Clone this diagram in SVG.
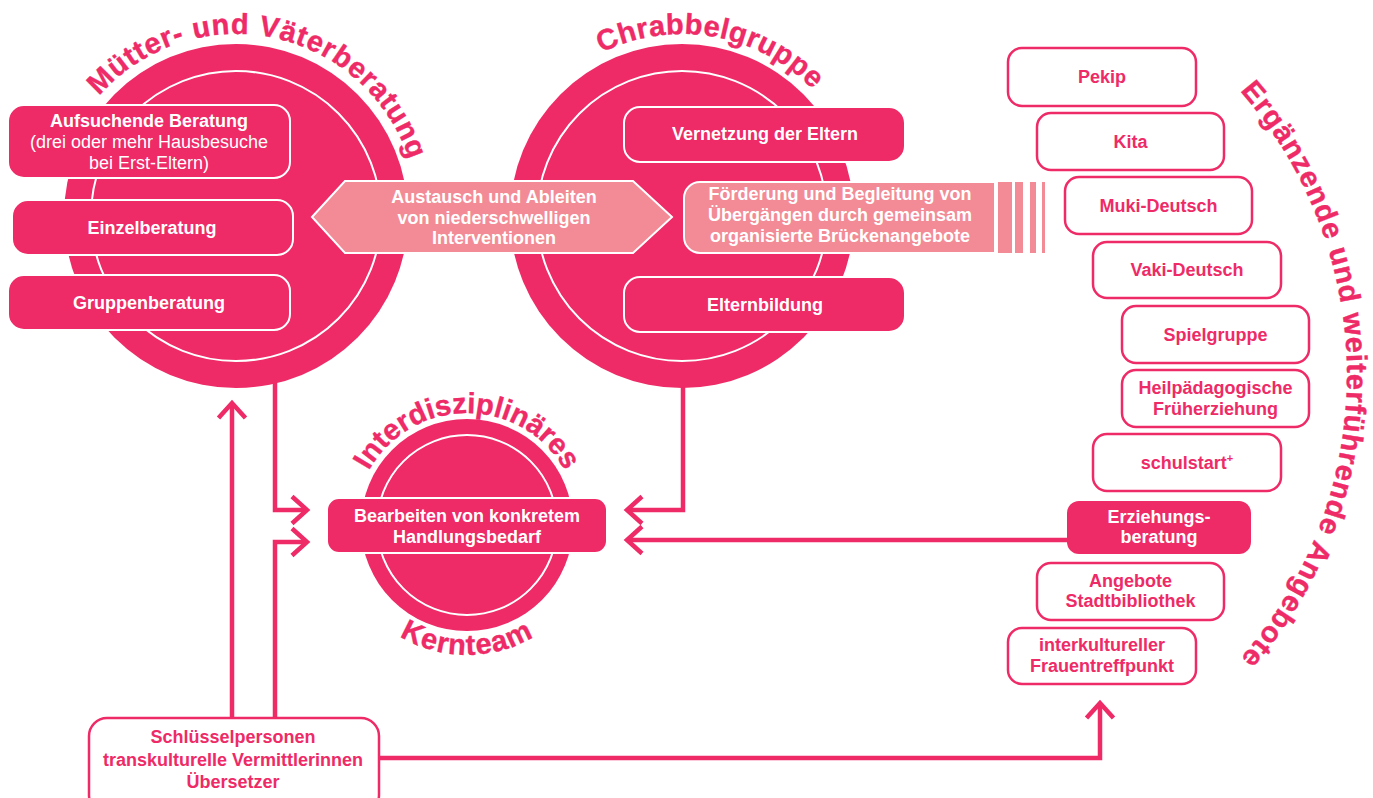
<svg xmlns="http://www.w3.org/2000/svg" xmlns:xlink="http://www.w3.org/1999/xlink" width="1373" height="798" viewBox="0 0 1373 798">
<style>
text{font-family:"Liberation Sans",Arial,Helvetica,sans-serif;font-weight:bold;font-size:18px;text-anchor:middle}
.w{fill:#fff}
.p{fill:#EE2A67}
.reg{font-weight:normal}
.arc{fill:#EE2A67;font-size:29px;stroke:#EE2A67;stroke-width:0.4}
.disc{fill:#EE2A67}
.ring{fill:none;stroke:#fff;stroke-width:2}
.ibox{fill:#EE2A67;stroke:#fff;stroke-width:2}
.lbox{fill:#F38B96;stroke:#fff;stroke-width:2}
.obox{fill:#fff;stroke:#EE2A67;stroke-width:2.5}
.con{fill:none;stroke:#EE2A67;stroke-width:4.5}
</style>
<defs>
<marker id="chev" viewBox="-22 -20 26 40" markerWidth="26" markerHeight="40" refX="0" refY="0" orient="auto" markerUnits="userSpaceOnUse">
<path d="M -15,-13.5 L 0,0 L -15,13.5" fill="none" stroke="#EE2A67" stroke-width="4.5"/>
</marker>
<path id="arcMV" d="M 54,216 A 182 182 0 0 1 418,216"/>
<path id="arcCG" d="M 500,216 A 182 182 0 0 1 864,216"/>
<path id="arcIT" d="M 355,525 A 112 112 0 0 1 579,525"/>
<path id="arcKT" d="M 337,525 A 130 130 0 0 0 597,525"/>
<path id="arcEA" d="M 917,-55 A 430 430 0 0 1 917,805"/>
</defs>
<rect width="1373" height="798" fill="#fff"/>

<g id="connectors">
<path class="con" d="M 275,380 V 510 H 307" marker-end="url(#chev)"/>
<path class="con" d="M 275,718 V 542 H 307" marker-end="url(#chev)"/>
<path class="con" d="M 232,718 V 403" marker-end="url(#chev)"/>
<path class="con" d="M 683,380 V 510 H 627" marker-end="url(#chev)"/>
<path class="con" d="M 1067,540 H 627" marker-end="url(#chev)"/>
<path class="con" d="M 379,758 H 1100 V 703" marker-end="url(#chev)"/>
</g>

<g id="muetter-vaeterberatung">
<circle class="disc" cx="236" cy="216" r="172"/>
<circle class="ring" cx="236" cy="216" r="145"/>
<text class="arc" letter-spacing="0.8"><textPath href="#arcMV" xlink:href="#arcMV" startOffset="56.5%">Mütter- und Väterberatung</textPath></text>
<g id="aufsuchende-beratung">
<rect class="ibox" x="8" y="105" width="282" height="73" rx="16"/>
<text class="w" x="149" y="127">Aufsuchende Beratung</text>
<text class="w reg" x="149" y="148">(drei oder mehr Hausbesuche</text>
<text class="w reg" x="149" y="169">bei Erst-Eltern)</text>
</g>
<g id="einzelberatung">
<rect class="ibox" x="12" y="200" width="281" height="55" rx="16"/>
<text class="w" x="152" y="234">Einzelberatung</text>
</g>
<g id="gruppenberatung">
<rect class="ibox" x="8" y="275" width="282" height="55" rx="16"/>
<text class="w" x="149" y="309">Gruppenberatung</text>
</g>
</g>

<g id="chrabbelgruppe">
<circle class="disc" cx="682" cy="216" r="172"/>
<circle class="ring" cx="682" cy="216" r="145"/>
<text class="arc" letter-spacing="0.4"><textPath href="#arcCG" xlink:href="#arcCG" startOffset="55.5%">Chrabbelgruppe</textPath></text>
<g id="vernetzung">
<rect class="ibox" x="624" y="107" width="281" height="55" rx="16"/>
<text class="w" x="765" y="140">Vernetzung der Eltern</text>
</g>
<g id="elternbildung">
<rect class="ibox" x="624" y="277" width="281" height="55" rx="16"/>
<text class="w" x="765" y="311">Elternbildung</text>
</g>
<g id="foerderung">
<path class="lbox" d="M 700,182 H 995 V 253 H 700 A 16 16 0 0 1 684,237 V 198 A 16 16 0 0 1 700,182 Z"/>
<rect x="998" y="182" width="14" height="71" fill="#F38B96"/>
<rect x="1015" y="182" width="8" height="71" fill="#F38B96"/>
<rect x="1030" y="182" width="6" height="71" fill="#F38B96"/>
<rect x="1042" y="182" width="3" height="71" fill="#F38B96"/>
<text class="w" x="840" y="200">Förderung und Begleitung von</text>
<text class="w" x="840" y="221">Übergängen durch gemeinsam</text>
<text class="w" x="840" y="242">organisierte Brückenangebote</text>
</g>
</g>

<g id="austausch">
<polygon class="lbox" points="312,217 345,181 633,181 672,217 633,253 345,253"/>
<text class="w" x="494" y="203">Austausch und Ableiten</text>
<text class="w" x="494" y="224">von niederschwelligen</text>
<text class="w" x="494" y="244">Interventionen</text>
</g>

<g id="kernteam">
<circle class="disc" cx="467" cy="525" r="106"/>
<circle class="ring" cx="467" cy="525" r="90" stroke-width="1.5"/>
<text class="arc" letter-spacing="0"><textPath href="#arcIT" xlink:href="#arcIT" startOffset="50%">Interdisziplinäres</textPath></text>
<text class="arc" letter-spacing="1"><textPath href="#arcKT" xlink:href="#arcKT" startOffset="50%">Kernteam</textPath></text>
<rect class="ibox" x="327" y="498" width="280" height="55" rx="12"/>
<text class="w" x="467" y="522">Bearbeiten von konkretem</text>
<text class="w" x="467" y="543">Handlungsbedarf</text>
</g>

<g id="ergaenzende-angebote">
<text class="arc" letter-spacing="1"><textPath href="#arcEA" xlink:href="#arcEA" startOffset="50%">Ergänzende und weiterführende Angebote</textPath></text>
</g>
<g id="pekip"><rect class="obox" x="1008" y="48" width="188" height="58" rx="14"/><text class="p" x="1102" y="83">Pekip</text></g>
<g id="kita"><rect class="obox" x="1037" y="113" width="187" height="57" rx="14"/><text class="p" x="1130.5" y="148">Kita</text></g>
<g id="muki"><rect class="obox" x="1065" y="177" width="187" height="57" rx="14"/><text class="p" x="1158.5" y="212">Muki-Deutsch</text></g>
<g id="vaki"><rect class="obox" x="1093" y="242" width="188" height="56" rx="14"/><text class="p" x="1187" y="276">Vaki-Deutsch</text></g>
<g id="spielgruppe"><rect class="obox" x="1122" y="306" width="187" height="57" rx="14"/><text class="p" x="1215.5" y="341">Spielgruppe</text></g>
<g id="heilpaedagogik"><rect class="obox" x="1122" y="370" width="187" height="57" rx="14"/><text class="p" x="1215.5" y="394">Heilpädagogische</text><text class="p" x="1215.5" y="415">Früherziehung</text></g>
<g id="schulstart"><rect class="obox" x="1093" y="434" width="188" height="57" rx="14"/><text class="p" x="1187" y="469">schulstart<tspan font-size="11" dy="-7">+</tspan></text></g>
<g id="erziehungsberatung"><rect x="1067" y="501" width="184" height="53" rx="12" fill="#EE2A67"/><text class="w" x="1159" y="523">Erziehungs-</text><text class="w" x="1159" y="543">beratung</text></g>
<g id="stadtbibliothek"><rect class="obox" x="1037" y="563" width="187" height="57" rx="14"/><text class="p" x="1130.5" y="587">Angebote</text><text class="p" x="1130.5" y="607">Stadtbibliothek</text></g>
<g id="frauentreffpunkt"><rect class="obox" x="1008" y="628" width="188" height="56" rx="14"/><text class="p" x="1102" y="651">interkultureller</text><text class="p" x="1102" y="672">Frauentreffpunkt</text></g>

<g id="schluesselpersonen">
<rect class="obox" x="89" y="718" width="290" height="95" rx="18"/>
<text class="p" x="233" y="743">Schlüsselpersonen</text>
<text class="p" x="233" y="766">transkulturelle Vermittlerinnen</text>
<text class="p" x="233" y="788">Übersetzer</text>
</g>
</svg>
